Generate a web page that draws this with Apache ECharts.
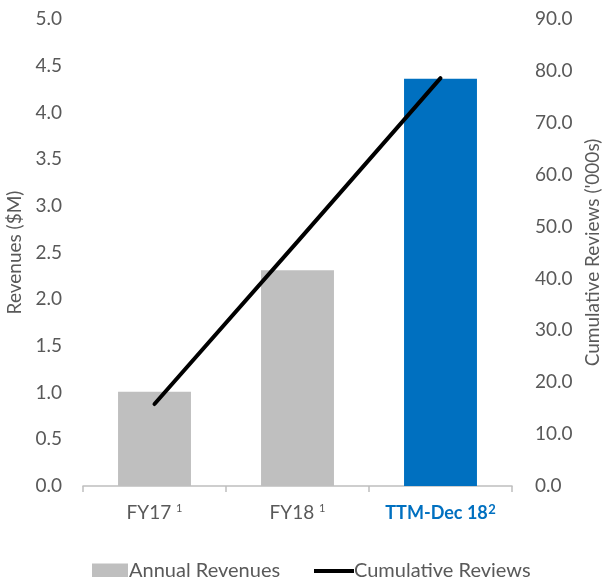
<!DOCTYPE html>
<html><head><meta charset="utf-8">
<script src="https://cdn.jsdelivr.net/npm/echarts@6/dist/echarts.min.js"></script>
<style>html,body{margin:0;padding:0;background:#fff}#c{width:602px;height:577px}</style>
</head><body><div id="c"></div>
<script>
const categories = ['FY17', 'FY18', 'TTM-Dec 18'];
const categorySup = ['1', '1', '2'];
const revenues = [1.01, 2.31, 4.36];
const reviews = [15.8, 47.1, 78.6];
const leftTicks = [0, 5, 0.5];
const rightTicks = [0, 90, 10];

const FONT = 'Lato';
const grey = '#595959';
const FS = 19;
const chart = echarts.init(document.getElementById('c'));
chart.setOption({
  animation: false,
  textStyle: { fontFamily: FONT },
  grid: { left: 83, right: 90, top: 19, bottom: 91, containLabel: false, outerBoundsMode: 'none' },
  legend: [
    { data: [{ name: 'Annual Revenues', icon: 'rect' }], left: 87, top: 556, itemWidth: 36, itemHeight: 15, itemGap: 4,
      textStyle: { color: grey, fontSize: 20, fontFamily: FONT, padding: [0, 0, 0, -4] } },
    { data: [{ name: 'Cumulative Reviews', icon: 'rect', itemStyle: { color: '#000' } }], left: 309, top: 556, itemWidth: 40, itemHeight: 4,
      textStyle: { color: grey, fontSize: 20, fontFamily: FONT, padding: [0, 0, 0, -5] } }
  ],
  xAxis: {
    type: 'category', data: categories,
    axisLine: { lineStyle: { color: '#bfbfbf', width: 1.5 } },
    axisTick: { show: true, length: 6, lineStyle: { color: '#bfbfbf', width: 1.5 } },
    axisLabel: {
      margin: 17, interval: 0,
      formatter: function (v, i) {
        return i === 2 ? '{b|' + v + ' }{bs|' + categorySup[i] + '}' : '{n|' + v + ' }{s|' + categorySup[i] + '}';
      },
      rich: {
        n: { color: grey, fontSize: FS, fontFamily: FONT },
        s: { color: grey, fontSize: 11, fontFamily: FONT, verticalAlign: 'top', padding: [0, 0, 8, 0] },
        b: { color: '#0070C0', fontSize: 18, fontWeight: 'bold', fontFamily: FONT },
        bs: { color: '#0070C0', fontSize: 13, fontWeight: 'bold', fontFamily: FONT, padding: [0, 0, 8, -4] }
      }
    }
  },
  yAxis: [
    { type: 'value', min: leftTicks[0], max: leftTicks[1], interval: leftTicks[2],
      name: 'Revenues ($M)', nameLocation: 'middle', nameGap: 56, nameRotate: 90,
      nameTextStyle: { color: grey, fontSize: FS, fontFamily: FONT },
      axisLine: { show: false }, axisTick: { show: false }, splitLine: { show: false },
      axisLabel: { color: grey, fontSize: FS, margin: 21, formatter: v => v.toFixed(1) } },
    { type: 'value', min: rightTicks[0], max: rightTicks[1], interval: rightTicks[2],
      name: "Cumulative Reviews ('000s)", nameLocation: 'middle', nameGap: 69, nameRotate: 90,
      nameTextStyle: { color: grey, fontSize: FS, fontFamily: FONT },
      axisLine: { show: false }, axisTick: { show: false }, splitLine: { show: false },
      axisLabel: { color: grey, fontSize: FS, margin: 23, formatter: v => v.toFixed(1) } }
  ],
  series: [
    { name: 'Annual Revenues', type: 'bar', yAxisIndex: 0, barWidth: '51%',
      itemStyle: { color: '#bfbfbf' },
      data: revenues.map((v, i) => i === 2 ? { value: v, itemStyle: { color: '#0070C0' } } : v) },
    { name: 'Cumulative Reviews', type: 'line', yAxisIndex: 1, symbol: 'none', showSymbol: false,
      itemStyle: { color: '#000' },
      lineStyle: { color: '#000', width: 4, cap: 'round' }, data: reviews }
  ]
});
</script></body></html>
